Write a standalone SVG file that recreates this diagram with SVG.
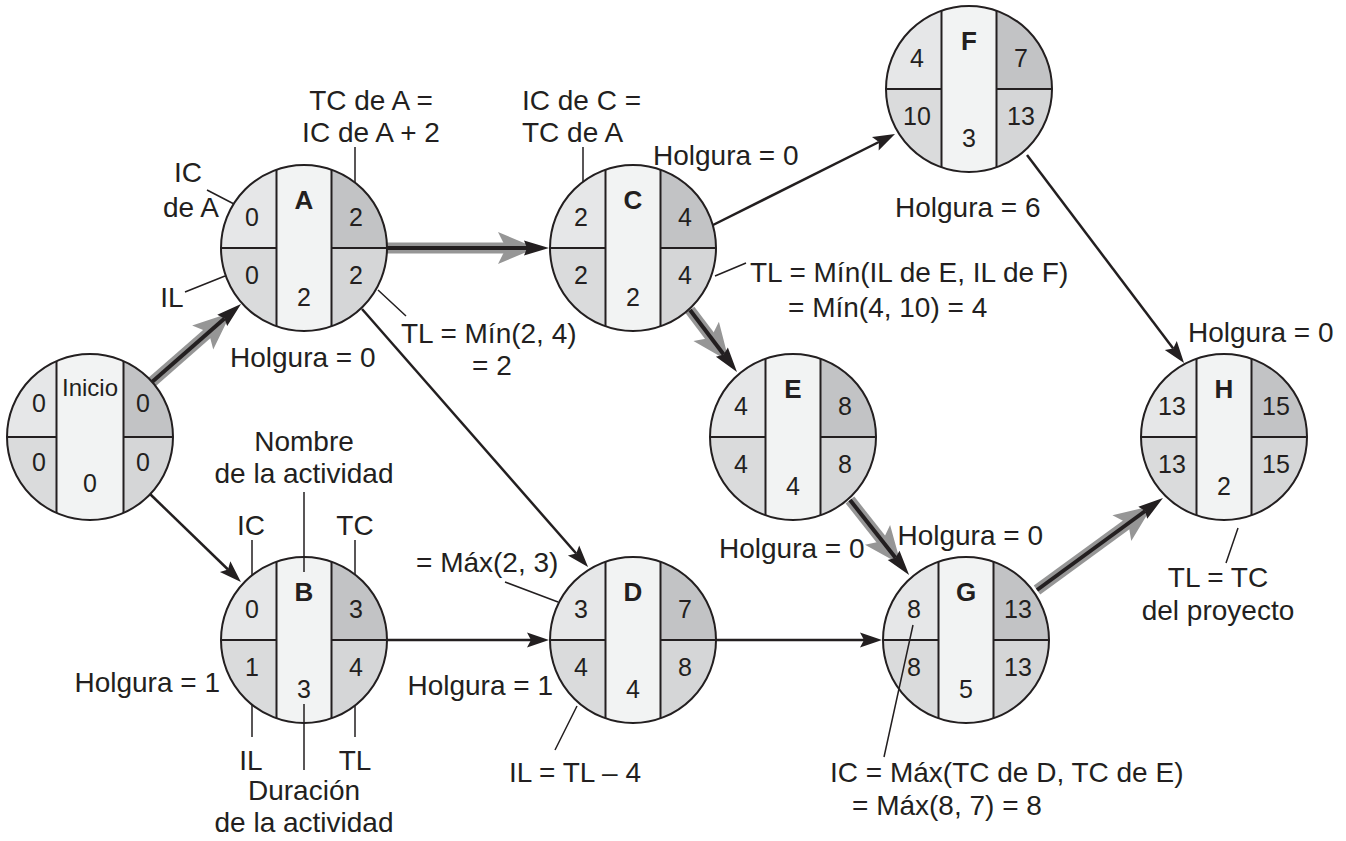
<svg xmlns="http://www.w3.org/2000/svg" width="1346" height="841" viewBox="0 0 1346 841">
<style>
text{font-family:"Liberation Sans",Arial,Helvetica,sans-serif;fill:#231f20}
.n{font-size:25px;text-anchor:middle}
.l{font-size:26px;font-weight:bold;text-anchor:middle}
.ini{font-size:24px;text-anchor:middle}
.a{font-size:28px}
.m{text-anchor:middle}
.e{text-anchor:end}
.ring{fill:none;stroke:#231f20;stroke-width:2}
.dv{fill:none;stroke:#231f20;stroke-width:2}
.q1{fill:#e6e7e8}.q2{fill:#dadbdc}.q3{fill:#c2c3c5}.q4{fill:#d5d6d7}.md{fill:#f2f3f3}
.lead{stroke:#231f20;stroke-width:1.5;fill:none}
.arr{stroke:#231f20;stroke-width:2.5;fill:none;marker-end:url(#hb)}
.cg{stroke:#969696;stroke-width:11;fill:none;marker-end:url(#hg)}
.cb{stroke:#231f20;stroke-width:4;fill:none;marker-end:url(#hk)}
</style>
<defs>
<clipPath id="cc"><circle cx="0" cy="0" r="83"/></clipPath>
<marker id="hb" markerUnits="userSpaceOnUse" orient="auto" viewBox="-2 -10 28 20" markerWidth="28" markerHeight="20" refX="4" refY="0"><path d="M0,-7.5 L22,0 L0,7.5 L4,0 Z" fill="#231f20"/></marker>
<marker id="hk" markerUnits="userSpaceOnUse" orient="auto" viewBox="-2 -10 30 20" markerWidth="30" markerHeight="20" refX="3" refY="0"><path d="M0,-7.5 L25,0 L0,7.5 L3,0 Z" fill="#231f20"/></marker>
<marker id="hg" markerUnits="userSpaceOnUse" orient="auto" viewBox="-2 -18 44 36" markerWidth="44" markerHeight="36" refX="8" refY="0"><path d="M0,-16 L38,0 L0,16 L8,0 Z" fill="#969696"/></marker>
<g id="quad">
<g clip-path="url(#cc)">
<rect class="q1" x="-90" y="-90" width="62.5" height="90"/>
<rect class="q2" x="-90" y="0" width="62.5" height="90"/>
<rect class="q3" x="27.5" y="-90" width="62.5" height="90"/>
<rect class="q4" x="27.5" y="0" width="62.5" height="90"/>
<rect class="md" x="-27.5" y="-90" width="55" height="180"/>
</g>
<circle class="ring" r="83"/>
<path class="dv" d="M-27.5,-78.3V78.3M27.5,-78.3V78.3M-83,0H-27.5M27.5,0H83"/>
</g>
</defs>

<g id="connectors">
<!-- critical path arrows -->
<line class="cg" x1="152" y1="382" x2="208.7" y2="332.3"/>
<line class="cb" x1="152" y1="382" x2="224.5" y2="318.5"/>
<line class="cg" x1="387" y1="248" x2="506" y2="248"/>
<line class="cb" x1="387" y1="248" x2="527" y2="248"/>
<line class="cg" x1="690" y1="310" x2="711" y2="337.7"/>
<line class="cb" x1="690" y1="310" x2="723.7" y2="354.5"/>
<line class="cg" x1="850" y1="500" x2="882.5" y2="541.1"/>
<line class="cb" x1="850" y1="500" x2="895.5" y2="557.7"/>
<line class="cg" x1="1037" y1="590" x2="1128.3" y2="523.4"/>
<line class="cb" x1="1037" y1="590" x2="1145.2" y2="511"/>
<!-- regular arrows -->
<line class="arr" x1="150" y1="494" x2="228" y2="569.5"/>
<line class="arr" x1="362" y1="309" x2="576.2" y2="553.5"/>
<line class="arr" x1="387" y1="640" x2="531" y2="640"/>
<line class="arr" x1="713" y1="225" x2="878.9" y2="142"/>
<line class="arr" x1="716" y1="640" x2="864" y2="640"/>
<line class="arr" x1="1027" y1="155" x2="1173.2" y2="348.6"/>
</g>

<g id="node-inicio" transform="translate(90,437)">
<g clip-path="url(#cc)">
<rect class="q1" x="-90" y="-90" width="56.5" height="90"/>
<rect class="q2" x="-90" y="0" width="56.5" height="90"/>
<rect class="q3" x="33.5" y="-90" width="56.5" height="90"/>
<rect class="q4" x="33.5" y="0" width="56.5" height="90"/>
<rect class="md" x="-33.5" y="-90" width="67" height="180"/>
</g>
<circle class="ring" r="83"/>
<path class="dv" d="M-33.5,-75.9V75.9M33.5,-75.9V75.9M-83,0H-33.5M33.5,0H83"/>
<text class="ini" x="0" y="-41">Inicio</text>
<text class="n" x="-51" y="-25">0</text><text class="n" x="53" y="-25">0</text>
<text class="n" x="-51" y="34">0</text><text class="n" x="53" y="34">0</text>
<text class="n" x="0" y="55">0</text>
</g>

<g id="node-A" transform="translate(304,248)">
<use href="#quad"/>
<text class="l" x="0" y="-39">A</text>
<text class="n" x="-52" y="-22">0</text><text class="n" x="52" y="-22">2</text>
<text class="n" x="-52" y="36">0</text><text class="n" x="52" y="36">2</text>
<text class="n" x="0" y="58">2</text>
</g>

<g id="node-B" transform="translate(304,640)">
<use href="#quad"/>
<text class="l" x="0" y="-39">B</text>
<text class="n" x="-52" y="-22">0</text><text class="n" x="52" y="-22">3</text>
<text class="n" x="-52" y="36">1</text><text class="n" x="52" y="36">4</text>
<text class="n" x="0" y="58">3</text>
</g>

<g id="node-C" transform="translate(633,248)">
<use href="#quad"/>
<text class="l" x="0" y="-39">C</text>
<text class="n" x="-52" y="-22">2</text><text class="n" x="52" y="-22">4</text>
<text class="n" x="-52" y="36">2</text><text class="n" x="52" y="36">4</text>
<text class="n" x="0" y="58">2</text>
</g>

<g id="node-D" transform="translate(633,640)">
<use href="#quad"/>
<text class="l" x="0" y="-39">D</text>
<text class="n" x="-52" y="-22">3</text><text class="n" x="52" y="-22">7</text>
<text class="n" x="-52" y="36">4</text><text class="n" x="52" y="36">8</text>
<text class="n" x="0" y="58">4</text>
</g>

<g id="node-E" transform="translate(793,437)">
<use href="#quad"/>
<text class="l" x="0" y="-39">E</text>
<text class="n" x="-52" y="-22">4</text><text class="n" x="52" y="-22">8</text>
<text class="n" x="-52" y="36">4</text><text class="n" x="52" y="36">8</text>
<text class="n" x="0" y="58">4</text>
</g>

<g id="node-F" transform="translate(969,89)">
<use href="#quad"/>
<text class="l" x="0" y="-39">F</text>
<text class="n" x="-52" y="-22">4</text><text class="n" x="52" y="-22">7</text>
<text class="n" x="-52" y="36">10</text><text class="n" x="52" y="36">13</text>
<text class="n" x="0" y="58">3</text>
</g>

<g id="node-G" transform="translate(966,640)">
<use href="#quad"/>
<text class="l" x="0" y="-39">G</text>
<text class="n" x="-52" y="-22">8</text><text class="n" x="52" y="-22">13</text>
<text class="n" x="-52" y="36">8</text><text class="n" x="52" y="36">13</text>
<text class="n" x="0" y="58">5</text>
</g>

<g id="node-H" transform="translate(1224,437)">
<use href="#quad"/>
<text class="l" x="0" y="-39">H</text>
<text class="n" x="-52" y="-22">13</text><text class="n" x="52" y="-22">15</text>
<text class="n" x="-52" y="36">13</text><text class="n" x="52" y="36">15</text>
<text class="n" x="0" y="58">2</text>
</g>

<g id="annotations">
<path class="lead" d="M355,147V182M207,190L234,204M185,292L225,276M378,290L406,316M583,147V182M715,276L746,263M304,492V572M252,540V575M355,540V575M252,705V737M355,705V737M304,704V770M505,582L558,602M577,706L555,750M913,625L884,757M1238,528L1226,563"/>
<text class="a m" x="371" y="110">TC de A =</text>
<text class="a m" x="371" y="142">IC de A + 2</text>
<text class="a m" x="188" y="182">IC</text>
<text class="a m" x="191" y="217">de A</text>
<text class="a m" x="172" y="307">IL</text>
<text class="a" x="230" y="367">Holgura = 0</text>
<text class="a" x="401" y="343">TL = Mín(2, 4)</text>
<text class="a" x="472" y="375">= 2</text>
<text class="a" x="522" y="110">IC de C =</text>
<text class="a" x="522" y="142">TC de A</text>
<text class="a" x="653" y="165">Holgura = 0</text>
<text class="a" x="750" y="282">TL = Mín(IL de E, IL de F)</text>
<text class="a" x="788" y="317">= Mín(4, 10) = 4</text>
<text class="a" x="895" y="217">Holgura = 6</text>
<text class="a" x="1188" y="342">Holgura = 0</text>
<text class="a m" x="304" y="451">Nombre</text>
<text class="a m" x="304" y="483">de la actividad</text>
<text class="a m" x="251" y="535">IC</text>
<text class="a m" x="355" y="535">TC</text>
<text class="a" x="416" y="572">= Máx(2, 3)</text>
<text class="a" x="719" y="558">Holgura = 0</text>
<text class="a e" x="1043" y="545">Holgura = 0</text>
<text class="a m" x="1218" y="587">TL = TC</text>
<text class="a m" x="1218" y="620">del proyecto</text>
<text class="a e" x="220" y="692">Holgura = 1</text>
<text class="a e" x="553" y="695">Holgura = 1</text>
<text class="a m" x="251" y="770">IL</text>
<text class="a m" x="355" y="770">TL</text>
<text class="a m" x="304" y="800">Duración</text>
<text class="a m" x="304" y="832">de la actividad</text>
<text class="a m" x="575" y="782">IL = TL – 4</text>
<text class="a" x="830" y="782">IC = Máx(TC de D, TC de E)</text>
<text class="a" x="852" y="815">= Máx(8, 7) = 8</text>
</g>
</svg>
